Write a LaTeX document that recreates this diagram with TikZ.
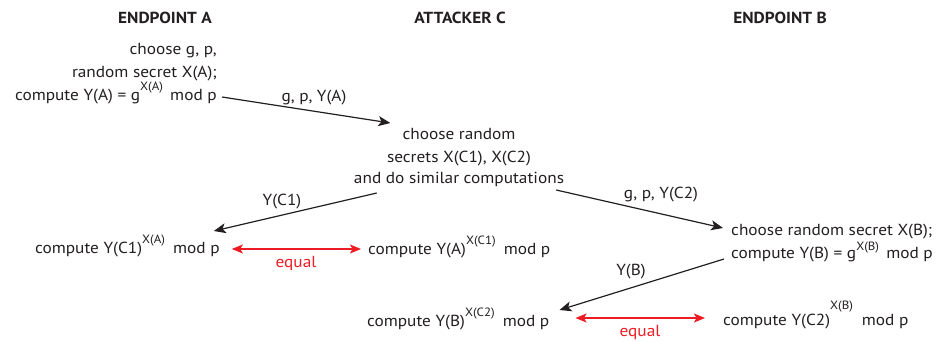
\documentclass[tikz,border=0pt]{standalone}
\usepackage{fontspec}
\setmainfont{PT Sans}[FakeStretch=1.08]
\usetikzlibrary{calc,arrows.meta}
\definecolor{ink}{RGB}{35,31,32}
\definecolor{redc}{RGB}{237,28,36}
\newcommand\sps[1]{\raisebox{0.62em}{\fontsize{12}{12}\selectfont #1}}
\newcommand\spslow[1]{\raisebox{0.5em}{\fontsize{12}{12}\selectfont #1}}
\newcommand\spshigh[1]{\raisebox{0.95em}{\fontsize{12}{12}\selectfont #1}}
\begin{document}
\begin{tikzpicture}[x=1pt,y=-1pt,
  font=\fontsize{16}{23}\selectfont,
  txt/.style={inner sep=0pt, text=ink},
  hdr/.style={txt, font=\fontsize{16}{18}\selectfont\bfseries},
  msg/.style={draw=ink, line width=1.2pt, -{Stealth[length=12pt,width=10pt,inset=3pt]}},
  eq/.style={draw=redc, line width=1.2pt, {Stealth[length=11pt,width=9pt,inset=2.5pt]}-{Stealth[length=11pt,width=9pt,inset=2.5pt]}},
  eqlbl/.style={txt, text=redc}]
\useasboundingbox (0,0) rectangle (936,341);
% headers
\node[hdr, anchor=base] (hA) at (165,23) {ENDPOINT A};
\node[hdr, anchor=base] (hC) at (460,23) {ATTACKER C};
\node[hdr, anchor=base] (hB) at (780,23) {ENDPOINT B};
% endpoint A
\node[txt, anchor=base east] (a1) at (217,54) {choose g, p,};
\node[txt, anchor=base east] (a2) at (217,77) {random secret X(A);};
\node[txt, anchor=base east] (a3) at (217,100) {compute Y(A) = g\sps{X(A)}\hspace{0.45em}mod p};
% attacker C
\node[txt, anchor=base] (c1) at (459,139) {choose random};
\node[txt, anchor=base] (c2) at (459,162) {secrets X(C1), X(C2)};
\node[txt, anchor=base] (c3) at (459,183) {and do similar computations};
% endpoint B
\node[txt, anchor=base west] (b1) at (731,235) {choose random secret X(B);};
\node[txt, anchor=base west] (b2) at (731,258) {compute Y(B) = g\spslow{X(B)}\hspace{0.45em}mod p};
% results
\node[txt, anchor=base west] (r1a) at (35,253) {compute Y(C1)\sps{X(A)}\hspace{0.5em}mod p};
\node[txt, anchor=base west] (r1b) at (368,254) {compute Y(A)\sps{X(C1)}\hspace{0.5em}mod p};
\node[txt, anchor=base west] (r2a) at (367,326) {compute Y(B)\sps{X(C2)}\hspace{0.5em}mod p};
\node[txt, anchor=base west] (r2b) at (723,325) {compute Y(C2)\spshigh{X(B)}\hspace{0.55em}mod p};
% messages
\draw[msg] ($(a3.base east)+(5,-3)$) -- ($(c1.base west)+(-12,-16)$);
\draw[msg] ($(c3.base west)+(23,10)$) -- ($(r1a.base east)+(-6,-22)$);
\draw[msg] ($(c3.base east)+(-8,7)$) -- ($(b1.base west)+(-8,-7)$);
\draw[msg] ($(b2.base west)+(-7,1)$) -- ($(r2a.base east)+(10,-16)$);
\node[txt, anchor=base] (l1) at (314,101) {g, p, Y(A)};
\node[txt, anchor=base] (l2) at (282,205) {Y(C1)};
\node[txt, anchor=base] (l3) at (661,198) {g, p, Y(C2)};
\node[txt, anchor=base] (l4) at (631,275) {Y(B)};
% equalities
\draw[eq] ($(r1a.base east)+(12,-4)$) -- ($(r1b.base west)+(-7,-5)$);
\draw[eq] ($(r2a.base east)+(26,-8)$) -- ($(r2b.base west)+(-18,-7)$);
\node[eqlbl, anchor=base] (e1) at (296,267) {equal};
\node[eqlbl, anchor=base] (e2) at (640,336) {equal};
\end{tikzpicture}
\end{document}
